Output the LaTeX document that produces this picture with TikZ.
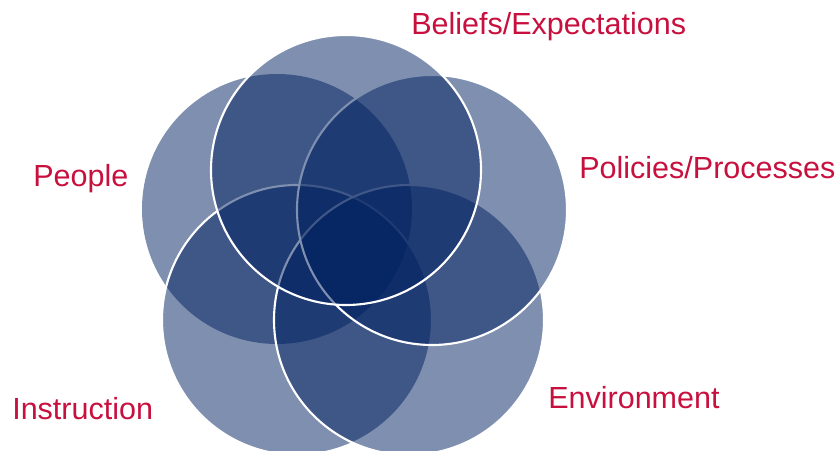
\documentclass[tikz,border=0pt]{standalone}
\usepackage{fontspec}
\setmainfont{Liberation Sans}

\definecolor{navyset}{RGB}{0,32,96}
\definecolor{labelred}{RGB}{200,16,62}

\begin{document}
\begin{tikzpicture}[x=0.025cm, y=-0.025cm,
    setcircle/.style={circle, minimum size=270*0.025cm, inner sep=0pt,
                      fill=navyset, fill opacity=0.5},
    rim/.style={draw=white, draw opacity=1, line width=1.5pt},
    setlabel/.style={anchor=base west, inner sep=0pt, text=labelred,
                     font=\fontsize{21.7}{26}\selectfont}]
    \useasboundingbox (0,0) rectangle (840,451);
    % circles, bottom layer first
    \node[setcircle]      (people)      at (277,209) {};
    \node[setcircle, rim] (instruction) at (297,320) {};
    \node[setcircle, rim] (environment) at (409,320) {};
    \node[setcircle, rim] (policies)    at (432,210) {};
    \node[setcircle, rim] (beliefs)     at (346,170) {};
    % labels
    \node[setlabel] (beliefslabel)     at (411,35)  {Beliefs/Expectations};
    \node[setlabel] (peoplelabel)      at (33,187)  {People};
    \node[setlabel] (policieslabel)    at (579,179) {Policies/Processes};
    \node[setlabel] (instructionlabel) at (12,419)  {Instruction};
    \node[setlabel] (environmentlabel) at (548,408) {Environment};
\end{tikzpicture}
\end{document}
